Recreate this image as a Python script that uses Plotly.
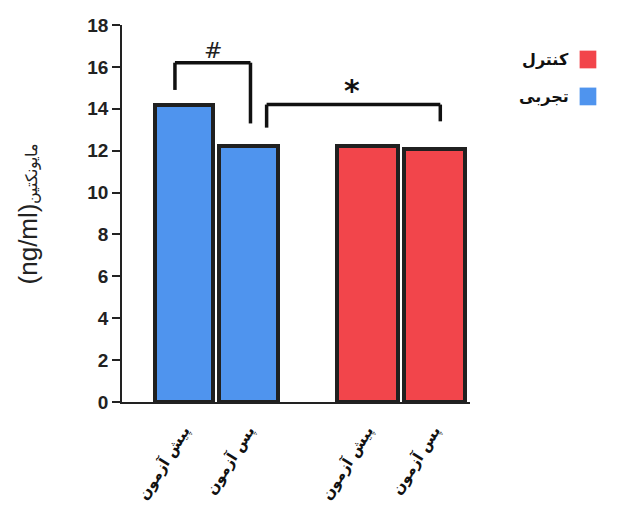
import plotly.graph_objects as go

# Group labels and measured means (ng/ml)
tick_labels = ["پیش آزمون", "پس آزمون", "پیش آزمون", "پس آزمون"]
positions = [0, 1, 2.84, 3.88]
experimental = [14.2, 12.2]   # تجربی
control = [12.2, 12.1]        # کنترل
group_names = ["کنترل", "تجربی"]

BLUE = "#4f94ee"
RED = "#f2454b"
EDGE = "#202020"

fig = go.Figure()
fig.add_trace(go.Bar(x=positions[:2], y=experimental, width=0.9,
                     marker=dict(color=BLUE, line=dict(color=EDGE, width=4)),
                     name=group_names[1], showlegend=False))
fig.add_trace(go.Bar(x=positions[2:], y=control, width=0.94,
                     marker=dict(color=RED, line=dict(color=EDGE, width=4)),
                     name=group_names[0], showlegend=False))

shapes = []
line = dict(color="#111", width=3.5)
# '#' bracket: pre vs post within experimental group
b1_top = experimental[0] + 2.0
shapes.append(dict(type="line", xref="x", yref="y", x0=positions[0] - 0.14, x1=positions[0] - 0.14,
                   y0=experimental[0] + 0.7, y1=b1_top, line=line))
shapes.append(dict(type="line", xref="x", yref="y", x0=positions[0] - 0.14, x1=positions[1] + 0.03,
                   y0=b1_top, y1=b1_top, line=line))
shapes.append(dict(type="line", xref="x", yref="y", x0=positions[1] + 0.03, x1=positions[1] + 0.03,
                   y0=b1_top, y1=experimental[1] + 1.1, line=line))
# '*' bracket: experimental post vs control post
b2_top = experimental[0]
shapes.append(dict(type="line", xref="x", yref="y", x0=positions[1] + 0.28, x1=positions[1] + 0.28,
                   y0=experimental[1] + 0.9, y1=b2_top, line=line))
shapes.append(dict(type="line", xref="x", yref="y", x0=positions[1] + 0.28, x1=positions[3] + 0.09,
                   y0=b2_top, y1=b2_top, line=line))
shapes.append(dict(type="line", xref="x", yref="y", x0=positions[3] + 0.09, x1=positions[3] + 0.09,
                   y0=b2_top, y1=control[1] + 1.3, line=line))

# Legend swatches (right-to-left layout: swatch right of label)
legend_colors = [RED, BLUE]
for i, c in enumerate(legend_colors):
    y0 = 0.932 - i * 0.098
    shapes.append(dict(type="rect", xref="paper", yref="paper",
                       x0=1.315, x1=1.363, y0=y0 - 0.047, y1=y0, fillcolor=c,
                       line=dict(width=0)))

annotations = [
    dict(x=(positions[0] + positions[1]) / 2 - 0.05, y=b1_top + 0.6, xref="x", yref="y",
         text="#", showarrow=False, font=dict(size=22, color="#222", family="DejaVu Sans")),
    dict(x=(positions[1] + positions[3]) / 2 + 0.17, y=b2_top + 0.65, xref="x", yref="y",
         text="<b>*</b>", showarrow=False, font=dict(size=30, color="#111", family="DejaVu Sans")),
]
for i, name in enumerate(group_names):
    y0 = 0.932 - i * 0.098
    annotations.append(dict(x=1.29, y=y0 - 0.024, xref="paper", yref="paper", xanchor="right",
                            yanchor="middle", text=f"<b>{name}</b>", showarrow=False,
                            font=dict(size=16, color="#111", family="DejaVu Sans")))

fig.update_layout(
    width=617, height=508,
    margin=dict(l=122, r=147, t=25, b=106),
    plot_bgcolor="white", paper_bgcolor="white",
    bargap=0, shapes=shapes, annotations=annotations,
    xaxis=dict(range=[-0.96, 4.43], tickvals=positions, ticktext=[f"<b>{t}</b>" for t in tick_labels],
               tickangle=-58, showgrid=False, zeroline=False, showline=True, automargin=False,
               linecolor="#222", linewidth=1.5, ticks="outside", ticklen=12, tickcolor="rgba(0,0,0,0)",
               tickfont=dict(size=15, color="#111", family="DejaVu Sans")),
    yaxis=dict(range=[0, 18], dtick=2, showgrid=False, zeroline=False, showline=True, automargin=False,
               linecolor="#222", linewidth=1.5, ticks="outside", ticklen=8, tickwidth=1.5,
               tickcolor="#222",
               tickfont=dict(size=19, color="#222", family="Liberation Sans", weight="bold"),
               title=dict(text="(ng/ml)<span style='font-size:16px'>مایونکتین</span>",
                          font=dict(size=26, color="#222", family="Liberation Sans"), standoff=42)),
)

fig.write_html("out.html")
